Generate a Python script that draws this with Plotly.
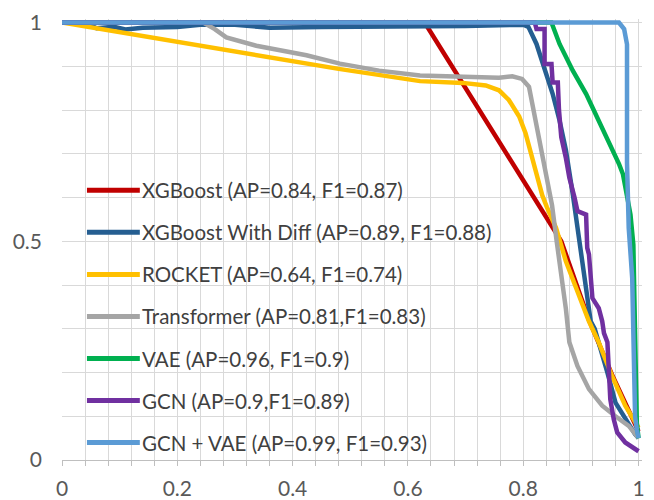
import plotly.graph_objects as go

# ---------------- data ----------------
series_names = [
    "XGBoost (AP=0.84, F1=0.87)",
    "XGBoost With Diff (AP=0.89, F1=0.88)",
    "ROCKET (AP=0.64, F1=0.74)",
    "Transformer (AP=0.81,F1=0.83)",
    "VAE (AP=0.96, F1=0.9)",
    "GCN (AP=0.9,F1=0.89)",
    "GCN + VAE (AP=0.99, F1=0.93)",
]
series_colors = ["#C00000", "#255E91", "#FFC000", "#A5A5A5", "#00B050", "#7030A0", "#5B9BD5"]

xgb_x = [0, 0.629, 0.866, 0.914, 0.954, 1.0]
xgb_y = [1, 1, 0.5, 0.32, 0.195, 0.065]

xgbd_x = [0, 0.04, 0.06, 0.09, 0.11, 0.14, 0.2, 0.24, 0.3, 0.36, 0.45, 0.5, 0.6, 0.7, 0.8, 0.809,
          0.823, 0.837, 0.851, 0.863, 0.874, 0.886, 0.894, 0.903, 0.911, 0.917, 0.924, 0.931,
          0.946, 0.96, 0.977, 0.994, 1.0]
xgbd_y = [1, 1, 0.987, 0.99, 0.984, 0.988, 0.99, 0.995, 0.995, 0.988, 0.99, 0.99, 0.99, 0.992, 0.995, 0.99,
          0.951, 0.897, 0.837, 0.776, 0.708, 0.607, 0.53, 0.454, 0.378, 0.317, 0.3, 0.269,
          0.2, 0.131, 0.093, 0.059, 0.05]

rocket_x = [0, 0.25, 0.48, 0.621, 0.695, 0.735, 0.758, 0.775, 0.793, 0.804, 0.813, 0.821, 0.833,
            0.841, 0.857, 0.874, 0.891, 0.914, 0.931, 0.954, 0.977, 0.994, 1.0]
rocket_y = [1, 0.945, 0.894, 0.866, 0.862, 0.856, 0.845, 0.823, 0.785, 0.747, 0.702, 0.657, 0.605,
            0.578, 0.53, 0.454, 0.393, 0.317, 0.269, 0.192, 0.124, 0.085, 0.074]

trans_x = [0, 0.245, 0.265, 0.285, 0.337, 0.424, 0.482, 0.55, 0.621, 0.695, 0.758, 0.781, 0.798,
           0.81, 0.818, 0.827, 0.835, 0.844, 0.85, 0.858, 0.869, 0.874, 0.88, 0.894, 0.914, 0.937,
           0.96, 0.983, 1.0]
trans_y = [1, 1, 0.985, 0.966, 0.947, 0.925, 0.906, 0.89, 0.879, 0.875, 0.874, 0.877, 0.871,
           0.853, 0.8, 0.747, 0.687, 0.627, 0.582, 0.5, 0.4, 0.345, 0.269, 0.215, 0.162, 0.124,
           0.1, 0.078, 0.05]

vae_x = [0, 0.849, 0.863, 0.886, 0.909, 0.931, 0.949, 0.966, 0.973, 0.98, 0.986, 0.991, 0.994, 0.997, 1.0]
vae_y = [1, 1, 0.951, 0.89, 0.837, 0.776, 0.723, 0.677, 0.653, 0.607, 0.561, 0.492, 0.317, 0.085, 0.05]

gcn_x = [0, 0.82, 0.823, 0.837, 0.837, 0.849, 0.851, 0.86, 0.862, 0.866, 0.874, 0.88, 0.889, 0.894,
         0.909, 0.911, 0.914, 0.917, 0.92, 0.931, 0.937, 0.94, 0.946, 0.949, 0.951, 0.957, 0.963,
         0.977, 0.989, 1.0]
gcn_y = [1, 1, 0.985, 0.985, 0.905, 0.905, 0.863, 0.863, 0.8, 0.738, 0.69, 0.645, 0.6, 0.569,
         0.561, 0.485, 0.47, 0.431, 0.37, 0.347, 0.317, 0.29, 0.269, 0.192, 0.139, 0.093, 0.063,
         0.04, 0.028, 0.02]

gv_x = [0, 0.966, 0.975, 0.98, 0.98, 0.983, 0.989, 0.991, 0.994, 0.997, 1.0]
gv_y = [1, 1, 0.985, 0.95, 0.68, 0.53, 0.416, 0.317, 0.1, 0.07, 0.05]

x_tick_vals = [0, 0.2, 0.4, 0.6, 0.8, 1]
x_tick_text = ["0", "0.2", "0.4", "0.6", "0.8", "1"]
y_tick_vals = [0, 0.5, 1]
y_tick_text = ["0", "0.5", "1"]

all_x = [xgb_x, xgbd_x, rocket_x, trans_x, vae_x, gcn_x, gv_x]
all_y = [xgb_y, xgbd_y, rocket_y, trans_y, vae_y, gcn_y, gv_y]

# ---------------- figure ----------------
FONT = "Lato, Liberation Sans, sans-serif"
fig = go.Figure()
for name, col, xs, ys in zip(series_names, series_colors, all_x, all_y):
    fig.add_trace(go.Scatter(x=xs, y=ys, mode="lines", name=name,
                             line=dict(color=col, width=4.5), showlegend=False))

# custom legend (line sample + text) drawn inside the plot
leg_top = 0.6164
leg_step = 0.0961
for i, (name, col) in enumerate(zip(series_names, series_colors)):
    yy = leg_top - i * leg_step
    fig.add_shape(type="line", xref="x", yref="y", x0=0.0433, x1=0.135, y0=yy, y1=yy,
                  line=dict(color=col, width=5))
    fig.add_annotation(x=0.135, y=yy, xref="x", yref="y", text=name, showarrow=False,
                       xanchor="left", yanchor="middle",
                       font=dict(family=FONT, size=20.5, color="#404040"))

# faint top border line
fig.add_shape(type="line", xref="paper", yref="paper", x0=-0.11, x1=1.03, y0=1.034, y1=1.034,
              line=dict(color="#E3E3E3", width=1))

# the page body adds an 8px offset; margins compensate so the plot lands where the reference has it
fig.update_layout(
    width=654, height=500,
    margin=dict(l=54, r=19.5, t=11.4, b=48),
    paper_bgcolor="white", plot_bgcolor="white",
    font=dict(family=FONT, size=20, color="#595959"),
    xaxis=dict(range=[0, 1.006], tickvals=x_tick_vals, ticktext=x_tick_text,
               automargin=False,
               showgrid=True, gridcolor="#D9D9D9", gridwidth=1, zeroline=False,
               showline=True, linecolor="#BFBFBF", linewidth=1,
               ticks="outside", ticklen=5, tickcolor="#BFBFBF",
               minor=dict(dtick=0.04, tick0=0, showgrid=True, gridcolor="#D9D9D9",
                          ticks="outside", ticklen=5, tickcolor="#BFBFBF"),
               tickfont=dict(family=FONT, size=21, color="#595959"),
               ticklabelstandoff=5),
    yaxis=dict(range=[0, 1.008], tickvals=y_tick_vals, ticktext=y_tick_text,
               automargin=False,
               showgrid=True, gridcolor="#D9D9D9", gridwidth=1, zeroline=False,
               showline=False, ticks="",
               minor=dict(dtick=0.1, tick0=0, showgrid=True, gridcolor="#D9D9D9"),
               tickfont=dict(family=FONT, size=21, color="#595959"),
               ticklabelstandoff=19),
)

fig.write_html("out.html")
